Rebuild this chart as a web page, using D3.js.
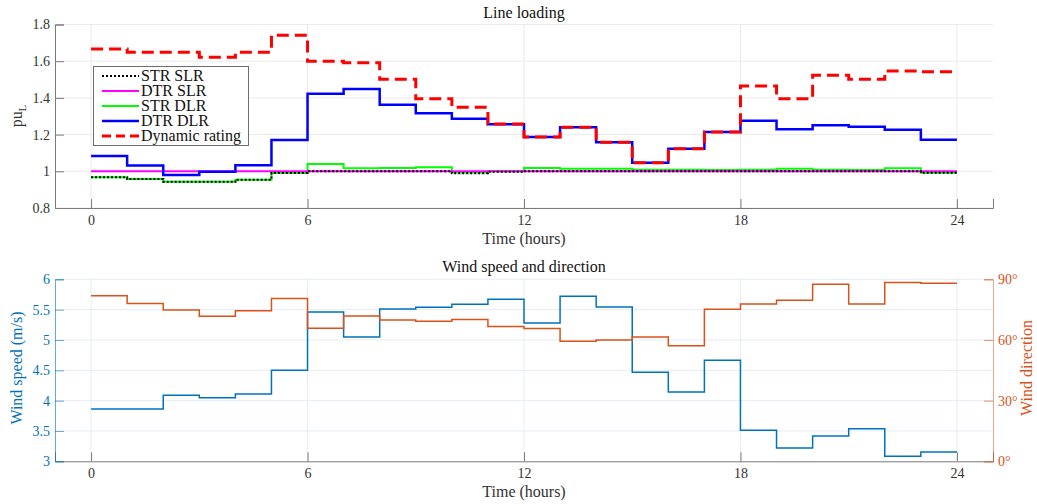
<!DOCTYPE html>
<html><head><meta charset="utf-8">
<script src="https://cdn.jsdelivr.net/npm/d3@7"></script>
<style>body{margin:0;background:#fff}svg{display:block}svg text{font-family:"Liberation Serif",Tinos,"Times New Roman",Times,serif !important}</style>
</head><body><svg id="c" width="1037" height="504"></svg>
<script>
const hours = d3.range(0, 24);
const xTicks = [0, 6, 12, 18, 24];
const loadTicks = [0.8, 1.0, 1.2, 1.4, 1.6, 1.8];
const speedTicks = [3, 3.5, 4, 4.5, 5, 5.5, 6];
const dirTicks = [0, 30, 60, 90];

const strSlr = [0.967,0.958,0.943,0.943,0.954,0.991,1.0,1.0,1.0,1.0,0.989,0.997,1.0,1.0,1.0,1.0,1.0,1.0,1.0,1.0,1.0,1.0,1.0,0.992];
const dtrSlr = [1,1,1,1,1,1,1,1,1,1,1,1,1,1,1,1,1,1,1,1,1,1,1,1];
const strDlr = [0.967,0.958,0.943,0.943,0.954,0.991,1.040,1.016,1.018,1.022,0.993,1.0,1.018,1.014,1.014,1.009,1.008,1.007,1.009,1.014,1.008,1.007,1.016,0.992];
const dtrDlr = [1.083,1.031,0.980,0.998,1.033,1.171,1.422,1.449,1.363,1.316,1.287,1.256,1.187,1.240,1.158,1.047,1.123,1.214,1.276,1.229,1.251,1.243,1.227,1.172];
const dynRating = [1.667,1.649,1.649,1.622,1.649,1.742,1.600,1.592,1.502,1.396,1.349,1.258,1.187,1.240,1.158,1.047,1.123,1.214,1.465,1.396,1.524,1.502,1.547,1.543];
const windSpeed = [3.862,3.862,4.088,4.049,4.109,4.50,5.461,5.049,5.51,5.538,5.588,5.67,5.28,5.72,5.543,4.467,4.142,4.665,3.511,3.219,3.417,3.538,3.082,3.153];
const windDir = [81.9,78.0,74.8,71.7,74.4,80.5,65.8,71.9,69.9,69.3,70.1,66.6,65.7,59.4,60.0,61.5,57.1,75.2,77.8,79.6,87.5,77.8,88.4,88.0];

const svg = d3.select("#c");
const L = 55, R = 993;
const x = d3.scaleLinear().domain([-1, 25]).range([L, R]);
const yTop = d3.scaleLinear().domain([0.8, 1.8]).range([208, 24.5]);
const yS = d3.scaleLinear().domain([3, 6]).range([461.3, 279.3]);
const yD = d3.scaleLinear().domain([0, 90]).range([461.3, 279.3]);

function stairs(vals) { const p = vals.map((v, i) => [i, v]); p.push([24, vals[vals.length - 1]]); return p; }
function drawLine(g, vals, ys, color, w, dash) {
  const line = d3.line().x(d => x(d[0])).y(d => ys(d[1])).curve(d3.curveStepAfter);
  g.append("path").attr("d", line(stairs(vals))).attr("fill", "none").attr("stroke", color)
    .attr("stroke-width", w).attr("stroke-dasharray", dash || null);
}
function styleTicks(a, color) {
  a.attr("font-family", null);
  a.selectAll("text").attr("fill", color).style("font-size", "14px");
}

// ---------- Top panel ----------
const gT = svg.append("g");
gT.selectAll(".gy").data(loadTicks).enter().append("line")
  .attr("x1", L).attr("x2", R).attr("y1", d => yTop(d)).attr("y2", d => yTop(d)).attr("stroke", "#ebebeb");
gT.selectAll(".gx").data(xTicks).enter().append("line")
  .attr("x1", d => x(d)).attr("x2", d => x(d)).attr("y1", yTop(0.8)).attr("y2", yTop(1.8)).attr("stroke", "#ebebeb");
const axTopL = gT.append("g").attr("transform", `translate(${L},0)`)
  .call(d3.axisLeft(yTop).tickValues(loadTicks).tickSize(-9).tickPadding(5).tickFormat(d => String(+d.toFixed(1))));
const axTopB = gT.append("g").attr("transform", `translate(0,${yTop(0.8)})`)
  .call(d3.axisBottom(x).tickValues(xTicks).tickSize(-9).tickPadding(7).tickFormat(d3.format("d")));
[axTopL, axTopB].forEach(a => {
  a.select(".domain").attr("stroke", "#7a7a7a");
  a.selectAll(".tick line").attr("stroke", "#7a7a7a");
  styleTicks(a, "#333");
});
drawLine(gT, strDlr, yTop, "#00ff00", 2);
drawLine(gT, dtrSlr, yTop, "#ff00ff", 2);
drawLine(gT, strSlr, yTop, "#000000", 2, "2,2");
drawLine(gT, dtrDlr, yTop, "#0000ff", 2.5);
drawLine(gT, dynRating, yTop, "#ff0000", 3, "12,6");
gT.append("text").attr("x", 524).attr("y", 18).attr("text-anchor", "middle").style("font-size", "16px").attr("fill", "#111").text("Line loading");
gT.append("text").attr("x", 524).attr("y", 244).attr("text-anchor", "middle").style("font-size", "16px").attr("fill", "#333").text("Time (hours)");
const yl = gT.append("text").attr("transform", "translate(22,116) rotate(-90)").attr("text-anchor", "middle").style("font-size", "16px").attr("fill", "#333");
yl.append("tspan").text("pu");
yl.append("tspan").attr("dy", 4).style("font-size", "11px").text("L");
const legItems = [
  {name: "STR SLR", color: "#000", w: 2, dash: "2,2"},
  {name: "DTR SLR", color: "#ff00ff", w: 2},
  {name: "STR DLR", color: "#00ff00", w: 2},
  {name: "DTR DLR", color: "#0000ff", w: 2.5},
  {name: "Dynamic rating", color: "#ff0000", w: 3, dash: "9,5"}
];
const lg = gT.append("g");
lg.append("rect").attr("x", 93.5).attr("y", 66.5).attr("width", 155).attr("height", 79).attr("fill", "#fff").attr("stroke", "#6e6e6e");
legItems.forEach((d, i) => {
  const yy = 76 + i * 15;
  lg.append("line").attr("x1", 102).attr("x2", 139).attr("y1", yy).attr("y2", yy)
    .attr("stroke", d.color).attr("stroke-width", d.w).attr("stroke-dasharray", d.dash || null);
  lg.append("text").attr("x", 141).attr("y", yy + 5).style("font-size", "16px").attr("fill", "#111").text(d.name);
});

// ---------- Bottom panel ----------
const gB = svg.append("g");
gB.selectAll(".gy").data(speedTicks.slice(1)).enter().append("line")
  .attr("x1", L).attr("x2", R).attr("y1", d => yS(d)).attr("y2", d => yS(d)).attr("stroke", "#e6edf4");
gB.selectAll(".gx").data(xTicks).enter().append("line")
  .attr("x1", d => x(d)).attr("x2", d => x(d)).attr("y1", yS(3)).attr("y2", yS(6)).attr("stroke", "#e6edf4");
const axBB = gB.append("g").attr("transform", `translate(0,${yS(3)})`)
  .call(d3.axisBottom(x).tickValues(xTicks).tickSize(-9).tickPadding(7).tickFormat(d3.format("d")));
axBB.select(".domain").attr("stroke", "#7a7a7a");
axBB.selectAll(".tick line").attr("stroke", "#7a7a7a");
styleTicks(axBB, "#333");
const axBL = gB.append("g").attr("transform", `translate(${L},0)`)
  .call(d3.axisLeft(yS).tickValues(speedTicks).tickSize(-9).tickPadding(5).tickFormat(d => String(d)));
axBL.select(".domain").attr("stroke", "#0072BD").attr("stroke-opacity", 0.6);
axBL.selectAll(".tick line").attr("stroke", "#0072BD").attr("stroke-opacity", 0.6);
styleTicks(axBL, "#0072BD");
const axBR = gB.append("g").attr("transform", `translate(${R},0)`)
  .call(d3.axisRight(yD).tickValues(dirTicks).tickSize(-9).tickPadding(5).tickFormat(d => d + "°"));
axBR.select(".domain").attr("stroke", "#D95319").attr("stroke-opacity", 0.5);
axBR.selectAll(".tick line").attr("stroke", "#D95319").attr("stroke-opacity", 0.6);
styleTicks(axBR, "#D95319");
drawLine(gB, windSpeed, yS, "#0072BD", 1.5);
drawLine(gB, windDir, yD, "#D95319", 1.5);
gB.append("text").attr("x", 524).attr("y", 272).attr("text-anchor", "middle").style("font-size", "16px").attr("fill", "#111").text("Wind speed and direction");
gB.append("text").attr("x", 524).attr("y", 497).attr("text-anchor", "middle").style("font-size", "16px").attr("fill", "#333").text("Time (hours)");
gB.append("text").attr("transform", "translate(22,368) rotate(-90)").attr("text-anchor", "middle").style("font-size", "16px").attr("fill", "#0072BD").text("Wind speed (m/s)");
gB.append("text").attr("transform", "translate(1032,368) rotate(-90)").attr("text-anchor", "middle").style("font-size", "16px").attr("fill", "#D95319").text("Wind direction");
</script></body></html>
